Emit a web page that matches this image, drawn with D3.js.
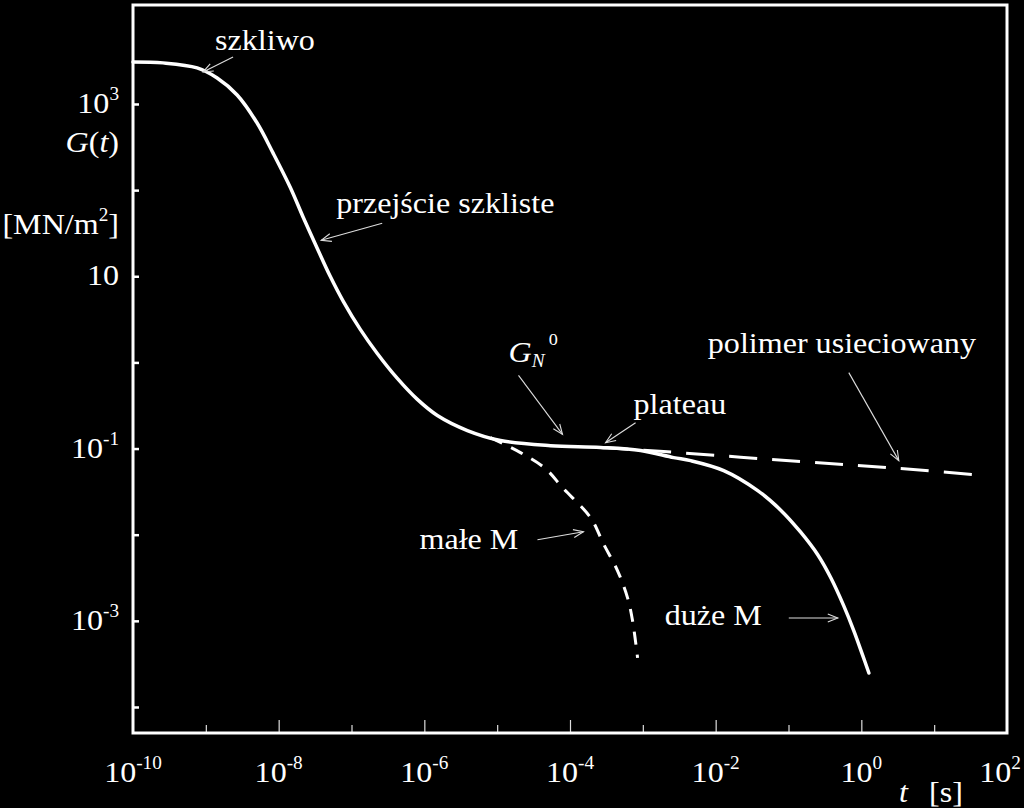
<!DOCTYPE html>
<html>
<head>
<meta charset="utf-8">
<script src="https://cdn.jsdelivr.net/npm/d3@7"></script>
<style>
  html, body { margin: 0; padding: 0; background: #000; }
  svg { display: block; }
  text { font-family: "Liberation Serif", "Times New Roman", Times, serif; fill: #fff; }
</style>
</head>
<body>
<svg id="chart" width="1024" height="808"></svg>
<script>
// ---- data ----
// main curve, large M (solid)
const mainT = [1e-10, 2.58e-10, 7.59e-10, 1.43e-9, 2.69e-9, 5.06e-9, 8.39e-9, 1.44e-8, 2.17e-8, 3.38e-8,
               5.10e-8, 7.71e-8, 1.32e-7, 2.26e-7, 4.26e-7, 8.02e-7, 1.51e-6, 3.90e-6, 1.11e-5, 5.40e-5,
               2.62e-4, 9.31e-4, 2.65e-3, 4.53e-3, 0.0129, 0.0378, 0.0782, 0.147, 0.252, 0.381,
               0.574, 0.789, 1.05, 1.27];
const mainG = [3080, 3000, 2624, 2004, 1273, 601, 269, 108, 48.5, 21.2,
               10.0, 5.12, 2.42, 1.27, 0.652, 0.372, 0.242, 0.162, 0.124, 0.108,
               0.103, 0.0948, 0.0785, 0.0724, 0.0555, 0.0325, 0.01928, 0.01069, 0.00585, 0.00316,
               0.00149, 0.000766, 0.000392, 0.000248];
// small M branch (short dashes)
const smallT = [8.07e-6, 2.09e-5, 4.60e-5, 7.89e-5, 1.91e-4, 2.88e-4, 4.50e-4, 6.17e-4, 7.23e-4, 8.47e-4];
const smallG = [0.134, 0.0897, 0.0585, 0.0352, 0.0158, 0.00785, 0.00381, 0.00185, 0.001, 0.000372];
// crosslinked polymer (long dashes)
const crossT = [2.62e-4, 1.93e-3, 0.147, 3.49, 51.4];
const crossG = [0.103, 0.0923, 0.0706, 0.0585, 0.0485];

// axis ticks
const yTicks = [1e3, 1e2, 1e1, 1e0, 1e-1, 1e-2, 1e-3, 1e-4];
const yLabelValues = [1e3, 1e1, 1e-1, 1e-3];
const yLabelBase = ["10", "10", "10", "10"];
const yLabelExp = ["3", "", "-1", "-3"];
const xTicks = [1e-9, 1e-8, 1e-7, 1e-6, 1e-5, 1e-4, 1e-3, 1e-2, 1e-1, 1e0, 1e1];
const xLabelValues = [1e-10, 1e-8, 1e-6, 1e-4, 1e-2, 1e0, 1e2];
const xLabelExp = ["-10", "-8", "-6", "-4", "-2", "0", "2"];

// annotations: text + arrow tip (data coords)
const annText = ["szkliwo", "przejście szkliste", "G_N^0", "plateau", "polimer usieciowany", "małe M", "duże M"];
const annTipT = [9.16e-10, 3.84e-8, 7.89e-5, 3.08e-4, 3.27, 1.53e-4, 0.475];
const annTipG = [2355, 26.2, 0.146, 0.117, 0.0724, 0.0108, 0.00108];

// ---- layout ----
const L = 133, R = 1007, T = 5, B = 733;
const stretch = 1.07;
const fs = 30, fsSup = 18, supDy = -13;
const FONT = '"Liberation Serif", "Times New Roman", Times, serif';
// offsets (pixels) of arrow tails and text starts relative to arrow tips
const tailOff = [[30, -15], [61, -17], [-44, -59], [30, -20], [-50, -88], [-46, 8], [-49, 0]];
const textOff = [[12, -22], [15, -27], [-54, -72], [28, -29], [-191, -108], [-164, 17], [-173, 7]];

const svg = d3.select("#chart");
svg.append("rect").attr("width", 1024).attr("height", 808).attr("fill", "#000");

const x = d3.scaleLog().domain([1e-10, 1e2]).range([L, R]);
const y = d3.scaleLog().domain([Math.pow(10, -4.302), Math.pow(10, 4.149)]).range([B, T]);

// axes ticks (inward)
const yAxis = d3.axisLeft(y).tickValues(yTicks).tickSize(-6).tickFormat("");
const gy = svg.append("g").attr("transform", `translate(${L},0)`).call(yAxis);
gy.select(".domain").remove();
gy.selectAll(".tick line").attr("stroke", "#fff").attr("stroke-width", 2.5);

const xAxis = d3.axisBottom(x).tickValues(xTicks).tickSizeInner(-13).tickFormat("");
const gx = svg.append("g").attr("transform", `translate(0,${B})`).call(xAxis);
gx.select(".domain").remove();
gx.selectAll(".tick line")
  .attr("stroke", "#ddd").attr("stroke-width", 1.2)
  .attr("y2", d => (Math.round(Math.log10(d)) % 2 === 0) ? -13 : -8);

// frame
svg.append("rect").attr("x", L).attr("y", T).attr("width", R - L).attr("height", B - T)
  .attr("fill", "none").attr("stroke", "#fff").attr("stroke-width", 3);

function txt(g, px, py, anchor) {
  return g.append("text")
    .attr("transform", `translate(${px},${py}) scale(${stretch},1)`)
    .attr("text-anchor", anchor || "start")
    .attr("font-family", FONT)
    .style("font-size", fs + "px");
}
// tick labels
function powLabel(g, px, py, base, exp, anchor) {
  const t = txt(g, px, py, anchor);
  t.append("tspan").text(base);
  if (exp) t.append("tspan").attr("dy", supDy).style("font-size", fsSup + "px").text(exp);
  return t;
}
const labels = svg.append("g");
yLabelValues.forEach((v, i) => powLabel(labels, 119, y(v) + 9, yLabelBase[i], yLabelExp[i], "end"));
xLabelValues.forEach((v, i) => {
  const t = powLabel(labels, x(v), 782, "10", xLabelExp[i], "middle");
  const bb = t.node().getBBox();
  const right = x(v) + (bb.x + bb.width) * stretch;
  if (right > 1021) {
    t.attr("transform", `translate(${x(v) - (right - 1021)},782) scale(${stretch},1)`);
  }
});

// axis titles
const gt = txt(labels, 119, 152, "end");
gt.append("tspan").style("font-style", "italic").text("G");
gt.append("tspan").text("(");
gt.append("tspan").style("font-style", "italic").text("t");
gt.append("tspan").text(")");

const gu = txt(labels, 119, 234, "end");
gu.append("tspan").text("[MN/m");
gu.append("tspan").attr("dy", supDy).style("font-size", fsSup + "px").text("2");
gu.append("tspan").attr("dy", -supDy).text("]");

txt(labels, 899, 802).style("font-style", "italic").text("t");
txt(labels, 929, 802).text("[s]");

// curves
const line = d3.line().x(d => x(d[0])).y(d => y(d[1])).curve(d3.curveCatmullRom.alpha(0.5));
const plot = svg.append("g");
plot.append("path").datum(crossT.map((t, i) => [t, crossG[i]]))
  .attr("d", line).attr("fill", "none").attr("stroke", "#fff")
  .attr("stroke-width", 3).attr("stroke-dasharray", "28,15");
plot.append("path").datum(smallT.map((t, i) => [t, smallG[i]]))
  .attr("d", line).attr("fill", "none").attr("stroke", "#fff")
  .attr("stroke-width", 3).attr("stroke-dasharray", "13,10");
plot.append("path").datum(mainT.map((t, i) => [t, mainG[i]]))
  .attr("d", line).attr("fill", "none").attr("stroke", "#fff")
  .attr("stroke-width", 3.5).attr("stroke-linecap", "round");

// arrow marker
svg.append("defs").append("marker")
  .attr("id", "arr").attr("viewBox", "-12 -6 14 12")
  .attr("refX", 0).attr("refY", 0)
  .attr("markerWidth", 14).attr("markerHeight", 12)
  .attr("markerUnits", "userSpaceOnUse").attr("orient", "auto")
  .append("path").attr("d", "M-10,-4 L0,0 L-10,4")
  .attr("fill", "none").attr("stroke", "#ddd").attr("stroke-width", 1.1);

// annotations
const ann = svg.append("g");
annText.forEach((label, i) => {
  const tx = x(annTipT[i]), ty = y(annTipG[i]);
  ann.append("line")
    .attr("x1", tx + tailOff[i][0]).attr("y1", ty + tailOff[i][1])
    .attr("x2", tx).attr("y2", ty)
    .attr("stroke", "#ddd").attr("stroke-width", 1.1)
    .attr("marker-end", "url(#arr)");
  const t = txt(ann, tx + textOff[i][0], ty + textOff[i][1]);
  if (label === "G_N^0") {
    t.append("tspan").style("font-style", "italic").text("G");
    t.append("tspan").style("font-style", "italic").style("font-size", "18px").attr("dy", 5).text("N");
    t.append("tspan").style("font-size", "17px").attr("dx", 4).attr("dy", -22).text("0");
  } else {
    t.text(label);
  }
});
</script>
</body>
</html>
